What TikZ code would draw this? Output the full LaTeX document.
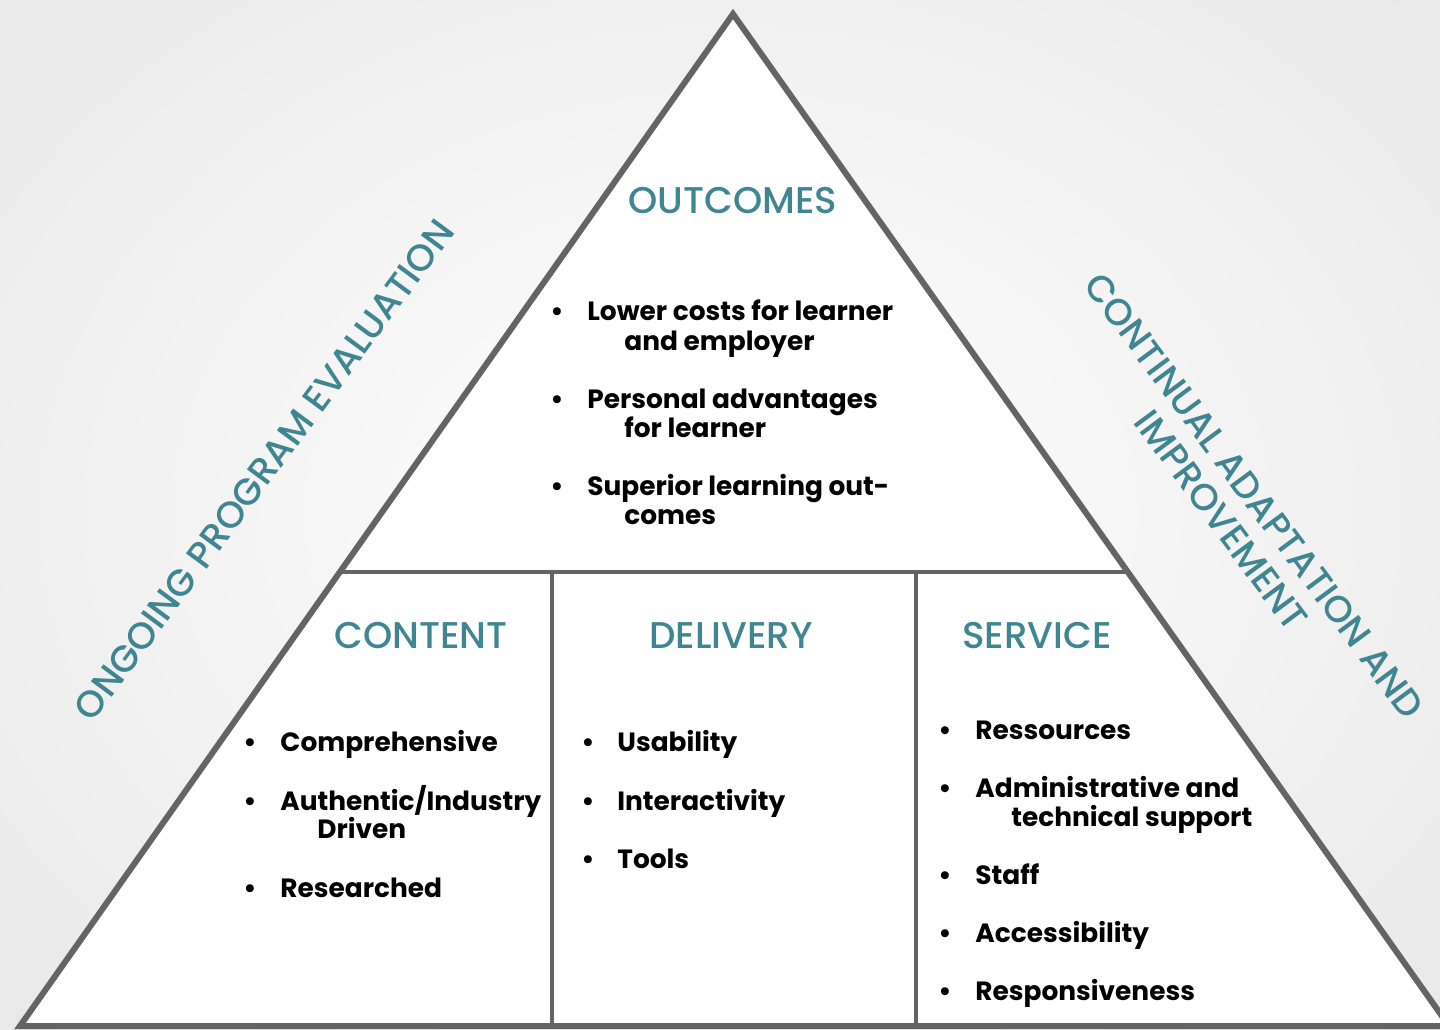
\documentclass[tikz,border=0pt]{standalone}
\usepackage{fontspec}
\setmainfont{Poppins}
\newfontfamily\headfont{Poppins Medium}
\definecolor{tealtxt}{HTML}{3F8592}
\definecolor{edgegray}{HTML}{646464}
\newcommand\pitem[4]{\node[itm] (#1) at (#2,#3) {#4};}
\newcommand\pbul[3]{\node[bul] (#1) at (#2,#3) {•};}
\begin{document}
\begin{tikzpicture}[x=0.5pt,y=-0.5pt,
  outer/.style={draw=edgegray, line width=3pt, line join=miter},
  inner/.style={draw=edgegray, line width=2pt},
  head/.style={text=tealtxt, inner sep=0pt, font=\headfont\fontsize{18.6}{22}\selectfont},
  itm/.style={anchor=base west, inner sep=0pt, font=\bfseries\fontsize{13.2}{16}\selectfont},
  bul/.style={anchor=base, inner sep=0pt, font=\bfseries\fontsize{13.2}{16}\selectfont},
  side/.style={text=tealtxt, inner sep=0pt, align=center, font=\headfont\fontsize{18.6}{20.5}\selectfont}]
\useasboundingbox (0,0) rectangle (1440,1029);
\shade[inner color=white, outer color=black!10] (-400,-350) rectangle (1840,1379);
\begin{scope}
\clip (0,0) rectangle (1440,1029);
\coordinate (apex) at (733,14);
\coordinate (bl) at (20,1026);
\coordinate (br) at (1449,1026);
\coordinate (ml) at (340,572);
\coordinate (mr) at (1128,572);
\coordinate (d1t) at (552,572);
\coordinate (d1b) at (552,1026);
\coordinate (d2t) at (916,572);
\coordinate (d2b) at (916,1026);
\fill[white] (apex) -- (bl) -- (br) -- cycle;
\draw[inner] (ml) -- (mr);
\draw[inner] (d1t) -- (d1b);
\draw[inner] (d2t) -- (d2b);
\draw[outer] (apex) -- (bl) -- (br) -- cycle;
\end{scope}
% headings
\node[head] (hout) at (733,201) {OUTCOMES};
\node[head] (hcon) at (421,636) {CONTENT};
\node[head] (hdel) at (731,636) {DELIVERY};
\node[head] (hser) at (1037,636) {SERVICE};
% side labels
\node[side, rotate=53.5] (left) at (264,470) {ONGOING PROGRAM EVALUATION};
\node[side, rotate=-53.5] (right) at (1238,508) {CONTINUAL ADAPTATION AND\\IMPROVEMENT};
% outcomes
\pbul{ob1}{557}{320}\pitem{o1a}{587}{320}{Lower costs for learner}
\pitem{o1b}{624}{350}{and employer}
\pbul{ob2}{557}{408}\pitem{o2a}{587}{408}{Personal advantages}
\pitem{o2b}{624}{437}{for learner}
\pbul{ob3}{557}{495}\pitem{o3a}{587}{495}{Superior learning out-}
\pitem{o3b}{624}{524}{comes}
% content
\pbul{cb1}{250}{751}\pitem{c1}{280}{751}{Comprehensive}
\pbul{cb2}{250}{810}\pitem{c2a}{280}{810}{Authentic/Industry}
\pitem{c2b}{317}{838}{Driven}
\pbul{cb3}{250}{897}\pitem{c3}{280}{897}{Researched}
% delivery
\pbul{db1}{588}{751}\pitem{dl1}{617}{751}{Usability}
\pbul{db2}{588}{810}\pitem{dl2}{617}{810}{Interactivity}
\pbul{db3}{588}{868}\pitem{dl3}{617}{868}{Tools}
% service
\pbul{sb1}{945}{739}\pitem{s1}{975}{739}{Ressources}
\pbul{sb2}{945}{797}\pitem{s2a}{975}{797}{Administrative and}
\pitem{s2b}{1011}{826}{technical support}
\pbul{sb3}{945}{884}\pitem{s3}{975}{884}{Staff}
\pbul{sb4}{945}{942}\pitem{s4}{975}{942}{Accessibility}
\pbul{sb5}{945}{1000}\pitem{s5}{975}{1000}{Responsiveness}
\end{tikzpicture}
\end{document}
